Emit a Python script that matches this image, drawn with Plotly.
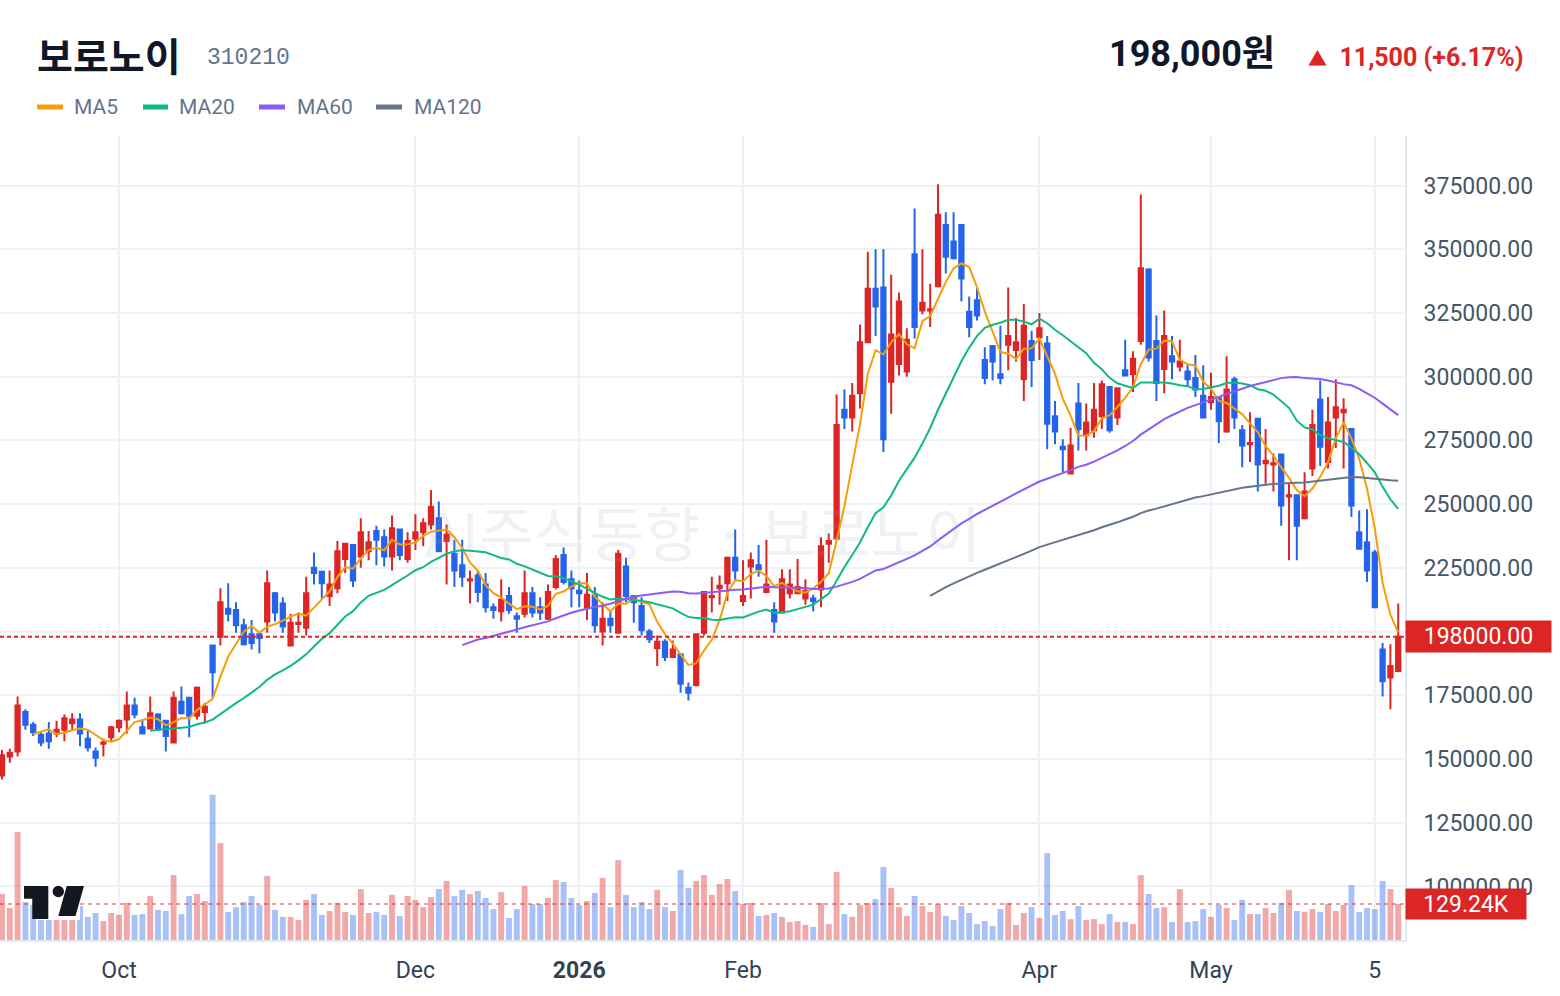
import plotly.graph_objects as go
import pandas as pd

# ---------------- data (daily candles, index 0 .. 179) ----------------
opens = [
    143500, 151000, 153000, 168500, 163500, 159500, 160000, 160000, 161500, 164000,
    165500, 158000, 153000, 156000, 158500, 162500, 165500, 171000, 162500, 162000,
    167500, 165000, 156500, 172500, 174000, 167000, 168500, 194500, 198000, 209000,
    208500, 202500, 199000, 199000, 204000, 215000, 211000, 194500, 203000, 201500,
    225000, 223500, 214000, 217000, 228500, 234000, 229500, 231500, 239500, 237000,
    229500, 240000, 228500, 236500, 239000, 242000, 244500, 235500, 230500, 226000,
    220000, 222000, 218500, 209500, 208000, 214000, 206000, 207000, 215000, 209500,
    205000, 217500, 230000, 220500, 216000, 209500, 214000, 200000, 205000, 199500,
    225500, 214000, 210000, 200000, 193500, 196000, 190000, 191000, 178000, 179000,
    199500, 213500, 217000, 219000, 229000, 212000, 225500, 226000, 215500, 208500,
    207500, 215000, 215000, 213000, 213000, 216500, 234500, 236500, 287000, 284000,
    293500, 313500, 334500, 335000, 298000, 305000, 302000, 348000, 326000, 326000,
    335500, 359500, 353000, 359500, 325500, 330000, 306500, 312000, 301000, 312500,
    310500, 299000, 314000, 315500, 313000, 284500, 272500, 262000, 289500, 277000,
    279000, 284500, 296000, 284000, 302500, 301000, 314000, 342000, 314000, 303000,
    308000, 304000, 302000, 299500, 292500, 290000, 291500, 278500, 299000, 279000,
    273500, 283500, 266000, 265500, 269500, 253000, 253500, 244500, 264000, 291000,
    266500, 284000, 286000, 279500, 239000, 235000, 231000, 193000, 182000, 184500,
]
highs = [
    153500, 154000, 174500, 169500, 164500, 161000, 164500, 165000, 167500, 168000,
    168000, 161000, 154500, 158000, 163000, 165500, 176500, 174000, 165500, 174500,
    168000, 165000, 176500, 178500, 174000, 178500, 172000, 194500, 217000, 219000,
    211500, 205000, 204500, 199500, 224000, 215500, 213500, 207000, 207500, 221500,
    231000, 223500, 224000, 235500, 234500, 234000, 244500, 239500, 241500, 240000,
    245500, 240000, 239000, 246000, 244500, 255500, 251000, 242000, 236000, 236000,
    224000, 224000, 223000, 211000, 220500, 217500, 207500, 224000, 217500, 213500,
    218500, 230000, 233000, 224000, 220000, 223000, 217500, 211500, 208000, 232000,
    229000, 214000, 213500, 201000, 198500, 197000, 196500, 191500, 180000, 199000,
    215500, 221500, 222000, 229500, 240000, 228000, 231000, 234000, 236000, 211500,
    224500, 224500, 228500, 220500, 214500, 237000, 238500, 293000, 295000, 297500,
    320500, 349000, 350000, 350000, 340000, 333000, 319000, 366000, 350000, 336500,
    375500, 364500, 364500, 359500, 331500, 335000, 311500, 312000, 320000, 335000,
    323000, 328500, 318000, 325000, 316000, 290500, 275500, 280000, 297500, 289500,
    297500, 298500, 296000, 295500, 314500, 310000, 371500, 342500, 324000, 326000,
    316000, 314500, 305000, 308500, 304500, 301500, 291500, 308000, 300000, 281000,
    286000, 283500, 279500, 270000, 269500, 258000, 253500, 262500, 287000, 298500,
    292000, 299000, 291500, 279500, 247500, 248000, 232000, 195500, 195000, 211000,
]
lows = [
    142000, 148500, 151000, 161500, 159000, 155000, 154000, 158500, 157000, 161500,
    155000, 153000, 147000, 151000, 157000, 160500, 160000, 166000, 160000, 161500,
    161000, 153000, 156500, 167500, 158500, 165500, 164000, 174000, 194500, 204000,
    199500, 194500, 193000, 191500, 199500, 204000, 199500, 194500, 199500, 198500,
    218500, 213000, 210000, 215000, 223000, 217500, 225000, 228000, 226000, 225500,
    224000, 228000, 227000, 232000, 233500, 240000, 231500, 218500, 217500, 217500,
    211000, 211500, 207500, 205000, 204000, 207000, 199500, 205500, 205500, 204500,
    204500, 216500, 218500, 209500, 209500, 204500, 199500, 194500, 199500, 199500,
    211500, 203500, 198500, 195500, 186500, 188500, 190000, 176000, 173000, 178500,
    198500, 207500, 210500, 212000, 220000, 210000, 213000, 221500, 215000, 199500,
    207500, 213000, 215000, 210500, 208000, 209500, 227000, 236500, 279500, 278500,
    287500, 313500, 316000, 270500, 285500, 300500, 300000, 315000, 324500, 319500,
    335000, 340500, 346000, 329500, 315500, 322000, 297000, 298500, 297000, 302500,
    306000, 290500, 296000, 306500, 271500, 273500, 262500, 262000, 271000, 271000,
    276000, 279500, 278000, 281000, 300500, 294000, 312500, 306000, 290500, 293500,
    299000, 302000, 296000, 292000, 284000, 287000, 274000, 278000, 279500, 264500,
    266500, 255000, 258000, 255000, 241500, 228000, 228000, 244000, 261000, 265000,
    264000, 272000, 264000, 245000, 232500, 219500, 209500, 174500, 169500, 184000,
]
closes = [
    151500, 152500, 171000, 163500, 160500, 156500, 157000, 161500, 166000, 165500,
    160000, 154500, 150500, 156500, 162500, 165000, 171000, 167500, 160000, 168000,
    161500, 159000, 174000, 168000, 167000, 178000, 170500, 184000, 211500, 207000,
    202500, 195000, 195500, 197500, 219000, 207500, 202000, 203500, 203500, 215000,
    223000, 219000, 218500, 231500, 234500, 220000, 239000, 235000, 236000, 229500,
    240500, 230000, 235500, 239000, 242500, 249000, 231500, 238000, 224000, 221500,
    220500, 215500, 209500, 208500, 212500, 208500, 205000, 215000, 207500, 207500,
    215500, 228500, 219500, 217000, 215000, 214500, 202500, 205000, 202500, 230500,
    214000, 211500, 200500, 197000, 196000, 190000, 193000, 179500, 176000, 199000,
    215500, 214000, 218000, 229000, 224000, 214000, 228000, 224500, 218500, 204000,
    220500, 218500, 217500, 216000, 212000, 233500, 235500, 281000, 284000, 292500,
    313500, 334500, 327500, 275500, 316500, 329500, 314500, 319500, 329000, 326500,
    363500, 347000, 346500, 338500, 319500, 324000, 299500, 306000, 299500, 316000,
    313500, 320000, 306500, 319000, 281500, 278500, 271500, 273000, 279500, 282000,
    287000, 297000, 279000, 295500, 300500, 307000, 342500, 307500, 297500, 316000,
    306000, 306000, 299000, 295000, 284000, 292000, 282500, 295000, 284000, 273000,
    274000, 265500, 267000, 266000, 249500, 253500, 241500, 255000, 281000, 272500,
    282000, 288000, 287000, 249500, 232500, 224000, 209500, 180500, 186500, 198000,
]
volumes_k = [
    165, 115, 388, 136, 126, 100, 95, 105, 110, 100,
    122, 83, 97, 68, 97, 90, 133, 90, 93, 158,
    108, 104, 233, 93, 158, 165, 140, 521, 348, 101,
    118, 136, 158, 126, 230, 108, 83, 83, 72, 144,
    165, 90, 104, 133, 101, 90, 183, 97, 101, 90,
    162, 86, 158, 144, 118, 154, 183, 212, 158, 180,
    165, 176, 151, 111, 172, 79, 111, 194, 129, 129,
    151, 215, 208, 151, 126, 140, 169, 223, 118, 287,
    162, 118, 136, 111, 180, 118, 104, 251, 187, 212,
    233, 162, 201, 219, 176, 129, 133, 86, 90, 97,
    83, 65, 68, 54, 47, 133, 57, 244, 93, 83,
    126, 133, 147, 262, 187, 118, 86, 158, 122, 101,
    129, 86, 72, 122, 97, 57, 68, 50, 111, 133,
    54, 97, 118, 79, 312, 90, 104, 75, 122, 72,
    75, 57, 93, 65, 65, 57, 233, 165, 115, 118,
    65, 183, 65, 68, 111, 83, 126, 115, 72, 144,
    93, 93, 115, 97, 133, 180, 104, 101, 111, 101,
    129, 104, 126, 197, 101, 115, 111, 212, 183, 129.24,
]
tick_index = [15, 53, 74, 95, 133, 155, 176]
tick_labels = ["Oct", "Dec", "<b>2026</b>", "Feb", "Apr", "May", "5"]
price_ticks = [100000, 125000, 150000, 175000, 200000, 225000, 250000,
               275000, 300000, 325000, 350000, 375000]
stock_name = "보로노이"
stock_code = "310210"
watermark = "AI주식동향 · 보로노이"
ma_windows = [5, 20, 60, 120]
ma_colors = ["#F59E0B", "#10B981", "#8B5CF6", "#64748B"]

# ---------------- derived ----------------
n = len(closes)
idx = list(range(n))
volumes = [v * 1000 for v in volumes_k]
UP, DOWN = "#DC2626", "#2563EB"
vol_colors = ["rgba(220,38,38,0.4)" if c >= o else "rgba(37,99,235,0.4)"
              for o, c in zip(opens, closes)]
s = pd.Series(closes, dtype=float)
mas = {w: s.rolling(w).mean() for w in ma_windows}

last = closes[-1]
prev = closes[-2]
chg = last - prev
pct = chg / prev * 100

# pixel geometry of the plot area
FW, FH = 1560, 996
PL, PR, PT, PB = 0, 1405, 136, 940
def xp(px):
    return (px - PL) / (PR - PL)
def yp(py):
    return (PB - py) / (PB - PT)

# axis ranges (candle i centred at 2 + 7.8*i px)
x_range = [-2 / 7.8, (PR - 2) / 7.8]
p_per_px = 392.3
y_top = 375000 + (185.5 - PT) * p_per_px
y_bot = 375000 - (PB - 185.5) * p_per_px
vol_range = [0, volumes[-1] * (PB - PT) / 36.0]

# the last-price label box hides the tick label it covers
tick_text = [("" if abs(v - last) < 12500 else f"{v:.2f}") for v in price_ticks]

fig = go.Figure()

fig.add_trace(go.Bar(
    x=idx, y=volumes, yaxis="y2", marker=dict(color=vol_colors, line=dict(width=0)),
    width=0.76, hoverinfo="skip", showlegend=False,
))

fig.add_trace(go.Candlestick(
    x=idx, open=opens, high=highs, low=lows, close=closes,
    increasing=dict(line=dict(color=UP, width=2), fillcolor=UP),
    decreasing=dict(line=dict(color=DOWN, width=2), fillcolor=DOWN),
    whiskerwidth=0, showlegend=False,
))

for w, col in zip(ma_windows, ma_colors):
    fig.add_trace(go.Scatter(
        x=idx, y=mas[w], mode="lines", line=dict(color=col, width=2),
        hoverinfo="skip", showlegend=False, connectgaps=False,
    ))

shapes = []
# last price line & last volume line
shapes.append(dict(type="line", xref="paper", x0=0, x1=1, yref="y", y0=last, y1=last,
                   line=dict(color=UP, width=2, dash="4px,3px"), layer="above"))
shapes.append(dict(type="line", xref="paper", x0=0, x1=1, yref="y2", y0=volumes[-1], y1=volumes[-1],
                   line=dict(color="rgba(220,38,38,0.45)", width=2, dash="4px,4px"), layer="above"))

# legend swatches
legend_x = [(37, 63, 72), (143, 168, 177), (259, 285, 295), (376, 402, 412)]
annotations = []
for (x0, x1, xt), w, col in zip(legend_x, ma_windows, ma_colors):
    shapes.append(dict(type="line", xref="paper", yref="paper", x0=xp(x0), x1=xp(x1),
                       y0=yp(107), y1=yp(107), line=dict(color=col, width=5)))
    annotations.append(dict(xref="paper", yref="paper", x=xp(xt), y=yp(107),
                            xanchor="left", yanchor="middle", showarrow=False,
                            text=f"MA{w}", font=dict(family="Roboto", size=21, color="#64748B")))

# TradingView style logo
shapes.append(dict(type="rect", xref="paper", yref="paper", x0=xp(36), x1=xp(80),
                   y0=yp(920), y1=yp(883), fillcolor="white", line=dict(width=0), layer="above"))
def pth(pts):
    return "M " + " L ".join(f"{xp(a)},{yp(b)}" for a, b in pts) + " Z"
logo_col = "#131722"
shapes.append(dict(type="path", xref="paper", yref="paper",
                   path=pth([(24, 886), (48.3, 886), (48.3, 919), (32.3, 919), (32.3, 898.7), (24, 898.7)]),
                   fillcolor=logo_col, line=dict(width=0), layer="above"))
shapes.append(dict(type="circle", xref="paper", yref="paper", x0=xp(52.6), x1=xp(64),
                   y0=yp(897.2), y1=yp(885.8), fillcolor=logo_col, line=dict(width=0), layer="above"))
shapes.append(dict(type="path", xref="paper", yref="paper",
                   path=pth([(66.7, 886), (84, 886), (75.5, 916), (58.3, 916)]),
                   fillcolor=logo_col, line=dict(width=0), layer="above"))

# header
annotations += [
    dict(xref="paper", yref="paper", x=xp(35), y=yp(54), xanchor="left", yanchor="middle",
         showarrow=False, text=f"<b>{stock_name}</b>",
         font=dict(family="Noto Sans CJK KR", size=39, color="#0F172A")),
    dict(xref="paper", yref="paper", x=xp(205), y=yp(58), xanchor="left", yanchor="middle",
         showarrow=False, text=stock_code,
         font=dict(family="Liberation Mono", size=23, color="#64748B")),
    dict(xref="paper", yref="paper", x=xp(1277), y=yp(54), xanchor="right", yanchor="middle",
         showarrow=False, text=f"<b>{last:,}원</b>",
         font=dict(family="Roboto, Noto Sans CJK KR", size=36, color="#0F172A")),
    dict(xref="paper", yref="paper", x=xp(1525), y=yp(57), xanchor="right", yanchor="middle",
         showarrow=False,
         text=f"<b><span style='font-size:19px'>▲</span>  {chg:,} (+{pct:.2f}%)</b>",
         font=dict(family="Roboto, Noto Sans CJK KR", size=25, color=UP)),
]
# price / volume labels on the right scale
annotations += [
    dict(xref="paper", yref="y", x=1, y=last, xanchor="left", yanchor="middle", showarrow=False,
         text=f"{last:.2f}", bgcolor=UP, width=139, height=25, borderpad=3, align="center",
         font=dict(family="Roboto", size=23, color="white")),
    dict(xref="paper", yref="y2", x=1, y=volumes[-1], xanchor="left", yanchor="middle", showarrow=False,
         text=f"{volumes_k[-1]:.2f}K", bgcolor=UP, width=114, height=24, borderpad=3, align="center",
         font=dict(family="Roboto", size=23, color="white")),
    dict(xref="paper", yref="paper", x=0.5, y=yp(530), xanchor="center", yanchor="middle",
         showarrow=False, text=watermark,
         font=dict(family="Noto Sans CJK KR", size=60, color="rgba(148,163,184,0.15)")),
]

grid = "#EEF1F5"
fig.update_layout(
    width=FW, height=FH,
    margin=dict(l=PL, r=FW - PR, t=PT, b=FH - PB, pad=0),
    paper_bgcolor="white", plot_bgcolor="white",
    showlegend=False, barmode="overlay",
    boxgap=0.45, boxgroupgap=0,
    font=dict(family="Roboto, Noto Sans CJK KR", color="#334155"),
    shapes=shapes, annotations=annotations,
    xaxis=dict(range=x_range, tickmode="array", tickvals=tick_index, ticktext=tick_labels,
               showgrid=True, gridcolor=grid, gridwidth=2, zeroline=False,
               showline=True, linecolor="#E2E8F0", linewidth=2,
               ticks="outside", ticklen=8, tickcolor="rgba(0,0,0,0)",
               tickfont=dict(family="Roboto", size=23, color="#334155"),
               rangeslider=dict(visible=False), fixedrange=True),
    yaxis=dict(range=[y_bot, y_top], side="right", tickmode="array", tickvals=price_ticks,
               ticktext=tick_text,
               showgrid=True, gridcolor=grid, gridwidth=2, zeroline=False,
               showline=True, linecolor="#E2E8F0", linewidth=2,
               ticks="outside", ticklen=12, tickcolor="rgba(0,0,0,0)",
               tickfont=dict(family="Roboto", size=23, color="#475569"), fixedrange=True),
    yaxis2=dict(range=vol_range, overlaying="y", side="right", showgrid=False,
                showticklabels=False, zeroline=False, showline=False, fixedrange=True),
)

fig.write_html("out.html", config={"displayModeBar": False})
